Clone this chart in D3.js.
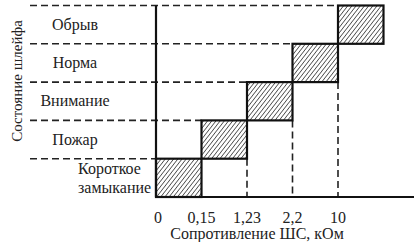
<!DOCTYPE html>
<html>
<head>
<meta charset="utf-8">
<script src="https://cdn.jsdelivr.net/npm/d3@7"></script>
<style>
  body { margin: 0; background: #fff; }
</style>
</head>
<body>
<div id="chart"></div>
<script>
// loop states, bottom to top
var states = ["Короткое замыкание", "Пожар", "Внимание", "Норма", "Обрыв"];
// resistance thresholds (tick labels on x axis)
var thresholds = ["0", "0,15", "1,23", "2,2", "10"];
// column index where each state's band starts
var stateStart = [0, 1, 2, 3, 4];

var width = 414, height = 242;
var plotLeft = 156, plotRight = 414, plotTop = 5.5, plotBottom = 197;
var serif = "'Liberation Serif', 'Times New Roman', Times, serif";

var svg = d3.select("#chart").append("svg")
  .attr("width", width)
  .attr("height", height)
  .style("font-family", serif);

// hatch pattern
var pat = svg.append("defs").append("pattern")
  .attr("id", "hatch")
  .attr("patternUnits", "userSpaceOnUse")
  .attr("width", 3.3)
  .attr("height", 3.3)
  .attr("patternTransform", "rotate(38)");
pat.append("line")
  .attr("x1", 0).attr("y1", 0)
  .attr("x2", 0).attr("y2", 3.3)
  .attr("stroke", "#1a1a1a")
  .attr("stroke-width", 1.3);

// scales
var x = d3.scaleLinear().domain([0, 5]).range([plotLeft, 383.5]);
var y = d3.scaleBand().domain(states).range([plotBottom, plotTop]).padding(0);

// horizontal dashed lines at the top of each band
svg.append("g").selectAll("line")
  .data(states)
  .join("line")
  .attr("x1", 30)
  .attr("x2", function(d, i) { return x(stateStart[i]); })
  .attr("y1", function(d) { return y(d); })
  .attr("y2", function(d) { return y(d); })
  .attr("stroke", "#222")
  .attr("stroke-width", 1.6)
  .attr("stroke-dasharray", "7,4");

// vertical dashed lines from band bottom-right down to the axis
svg.append("g").selectAll("line")
  .data(states.slice(1, 4))
  .join("line")
  .attr("x1", function(d, i) { return x(stateStart[i + 1] + 1); })
  .attr("x2", function(d, i) { return x(stateStart[i + 1] + 1); })
  .attr("y1", function(d) { return y(d) + y.bandwidth(); })
  .attr("y2", plotBottom)
  .attr("stroke", "#222")
  .attr("stroke-width", 1.6)
  .attr("stroke-dasharray", "7,4");

// hatched boxes
svg.append("g").selectAll("rect")
  .data(states)
  .join("rect")
  .attr("x", function(d, i) { return x(stateStart[i]); })
  .attr("y", function(d) { return y(d); })
  .attr("width", function(d, i) { return x(stateStart[i] + 1) - x(stateStart[i]); })
  .attr("height", y.bandwidth())
  .attr("fill", "url(#hatch)")
  .attr("stroke", "#111")
  .attr("stroke-width", 2.2);

// axes
svg.append("line")
  .attr("x1", plotLeft).attr("x2", plotRight)
  .attr("y1", plotBottom).attr("y2", plotBottom)
  .attr("stroke", "#111").attr("stroke-width", 2.2);
svg.append("line")
  .attr("x1", plotLeft).attr("x2", plotLeft)
  .attr("y1", plotTop).attr("y2", plotBottom)
  .attr("stroke", "#111").attr("stroke-width", 2.2);

// x tick labels
svg.append("g").selectAll("text")
  .data(thresholds)
  .join("text")
  .attr("x", function(d, i) { return x(i) + (i === 0 ? 2 : 0); })
  .attr("y", 223)
  .attr("text-anchor", "middle")
  .attr("font-family", serif)
  .attr("font-size", 16)
  .attr("fill", "#222")
  .text(function(d) { return d; });

// state labels
var labels = svg.append("g")
  .attr("font-family", serif)
  .attr("font-size", 16)
  .attr("fill", "#222");
states.forEach(function(s, i) {
  var words = s.split(" ");
  var cy = y(s) + y.bandwidth() / 2;
  if (words.length > 1) {
    var t = labels.append("text").attr("x", 78);
    words.forEach(function(w, j) {
      t.append("tspan")
        .attr("x", 78)
        .attr("y", cy - 4 + j * 19)
        .text(w);
    });
  } else {
    labels.append("text")
      .attr("x", 75)
      .attr("y", cy + 5)
      .attr("text-anchor", "middle")
      .text(s);
  }
});

// axis titles
svg.append("text")
  .attr("x", 257)
  .attr("y", 239)
  .attr("text-anchor", "middle")
  .attr("font-family", serif)
  .attr("font-size", 16)
  .attr("fill", "#222")
  .text("Сопротивление ШС, кОм");

svg.append("text")
  .attr("transform", "translate(22,81) rotate(-90)")
  .attr("text-anchor", "middle")
  .attr("font-family", serif)
  .attr("font-size", 15)
  .attr("fill", "#222")
  .text("Состояние шлейфа");
</script>
</body>
</html>
